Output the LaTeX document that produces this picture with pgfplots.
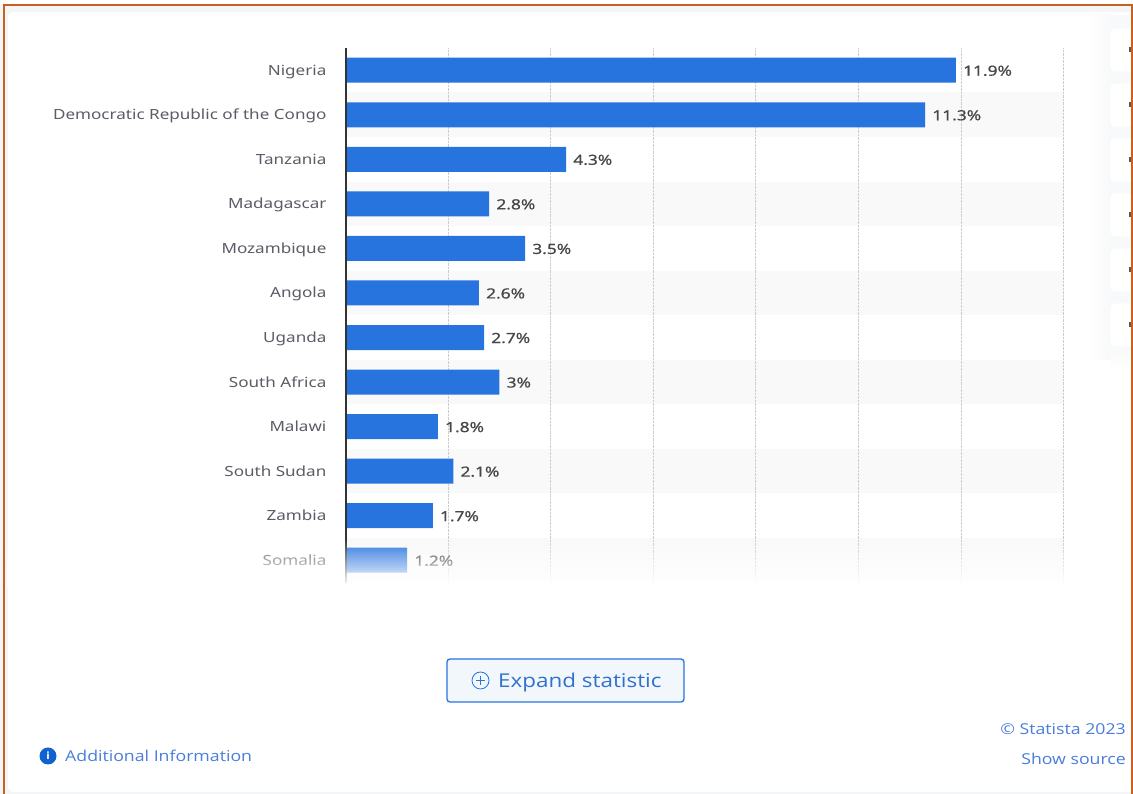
\documentclass[border=0pt]{standalone}
\usepackage{pgfplots}
\pgfplotsset{compat=1.18}
\usepackage{fontspec}
\setmainfont{DejaVu Sans}
\newfontfamily\uifont[FakeStretch=1.18]{Open Sans}
\newfontfamily\catfont[FakeStretch=1.22]{Noto Sans}
\newfontfamily\valfont[FakeStretch=1.24,FakeBold=0.5]{Noto Sans}
\usetikzlibrary{fadings}
\definecolor{barblue}{HTML}{2874DE}
\definecolor{labelgrey}{HTML}{5C5C66}
\definecolor{valuegrey}{HTML}{474747}
\definecolor{linkblue}{HTML}{4A7DDC}
\definecolor{framecol}{HTML}{C8611F}
\definecolor{cardgrey}{HTML}{F4F5F6}
\definecolor{shadowgrey}{HTML}{F8F9FA}
\definecolor{stripe}{HTML}{F9F9F9}
\definecolor{buttonfill}{HTML}{F2F7FB}
\definecolor{buttontext}{HTML}{3070D0}
\definecolor{infoblue}{HTML}{0F62D0}
\tikzfading[name=fade to white, top color=transparent!100, bottom color=transparent!0]
\begin{document}
\begin{tikzpicture}
\useasboundingbox (0pt,0pt) rectangle (1133pt,794pt);
% page layer, written with y measured downwards
\begin{scope}[x=1pt,y=1pt,shift={(0pt,794pt)},yscale=-1]
  \fill[cardgrey] (0,0) rectangle (1133,794);
  \fill[white] (0,0) rectangle (1133,5);
  \fill[white,rounded corners=5pt] (8,12) rectangle (1145,792);
  % alternating row bands
  \foreach \t in {92.5,181.6,270.7,359.8,448.9,538}{
    \fill[stripe] (346,\t) rectangle (1064,\t+44.55);
  }
  % soft shadow behind the toolbar
  \shade[left color=white,right color=shadowgrey] (1085,15) rectangle (1110,360);
  \shade[top color=shadowgrey,bottom color=white] (1110,345) rectangle (1131,372);
  \fill[shadowgrey] (1110,15) rectangle (1131,345);
  \foreach \t in {28,83,138,193,248,303}{
    \fill[white,rounded corners=5pt,draw=shadowgrey,line width=0.6pt] (1110,\t) rectangle (1145,\t+44);
    \fill[black!65] (1129,\t+19.5) rectangle (1131,\t+24.5);
  }
\end{scope}
\begin{axis}[
  at={(345.6pt,210.6pt)},anchor=south west,
  scale only axis,width=718pt,height=535pt,
  xmin=0,xmax=14,ymin=-0.49,ymax=11.52,
  y dir=reverse,
  xbar,bar width=25pt,bar shift=0pt,
  axis line style={draw=none},
  major tick length=0pt,
  xtick={0,2,...,14},xticklabels={},
  xmajorgrids,
  grid style={black!20,densely dotted,line width=1pt},
  ytick={0,...,11},
  yticklabels={Nigeria,Democratic Republic of the Congo,Tanzania,Madagascar,Mozambique,Angola,Uganda,South Africa,Malawi,South Sudan,Zambia,Somalia},
  y tick label style={font=\catfont\fontsize{14}{16}\selectfont,text=labelgrey,inner sep=0pt,xshift=-19pt,text height=10pt,text depth=0pt},
  point meta=x,
  nodes near coords={\pgfmathprintnumber[fixed,precision=1,assume math mode=true]{\pgfplotspointmeta}\%},
  nodes near coords style={font=\valfont\fontsize{14}{16}\selectfont,text=valuegrey,anchor=west,inner sep=0pt,xshift=7pt,yshift=-0.5pt,text height=10pt,text depth=0pt},
  clip=false,
]
\addplot[fill=barblue,draw=none] coordinates {
  (11.9,0) (11.3,1) (4.3,2) (2.8,3) (3.5,4) (2.6,5)
  (2.7,6) (3,7) (1.8,8) (2.1,9) (1.7,10) (1.2,11)
};
\end{axis}
% category axis line, above the bars
\draw[black!80,line width=1.6pt] (346pt,211pt) -- (346pt,746pt);
% the list fades out towards its lower edge
\fill[white,path fading=fade to white] (8pt,208pt) rectangle (1075pt,256pt);
\begin{scope}[x=1pt,y=1pt,shift={(0pt,794pt)},yscale=-1]
  % expand button
  \draw[barblue,line width=1.3pt,fill=buttonfill,rounded corners=3pt] (447,659) rectangle (684,702);
  \draw[barblue,line width=0.8pt] (480.5,680.5) circle (8.5);
  \draw[barblue,line width=0.8pt] (476,680.5) -- (485,680.5) (480.5,676) -- (480.5,685);
  % information bullet
  \fill[infoblue] (48,756) circle (8.5);
  % frame
  \draw[framecol,line width=2pt] (3.5,794) -- (3.5,5.5) -- (1131.5,5.5) -- (1131.5,794);
\end{scope}
\node[white,font=\bfseries\fontsize{10}{10}\selectfont,inner sep=0pt] at (48pt,38pt) {i};
\node[anchor=west,inner sep=0pt,text=buttontext,font=\uifont\fontsize{19}{24}\selectfont] at (498pt,111.5pt) {Expand statistic};
\node[anchor=west,inner sep=0pt,text=linkblue,font=\uifont\fontsize{15}{18}\selectfont] at (65pt,38pt) {Additional Information};
\node[anchor=east,inner sep=0pt,text=linkblue,font=\uifont\fontsize{15}{18}\selectfont] at (1126pt,65pt) {© Statista 2023};
\node[anchor=east,inner sep=0pt,text=linkblue,font=\uifont\fontsize{15}{18}\selectfont] at (1126pt,35pt) {Show source};
\end{tikzpicture}
\end{document}
